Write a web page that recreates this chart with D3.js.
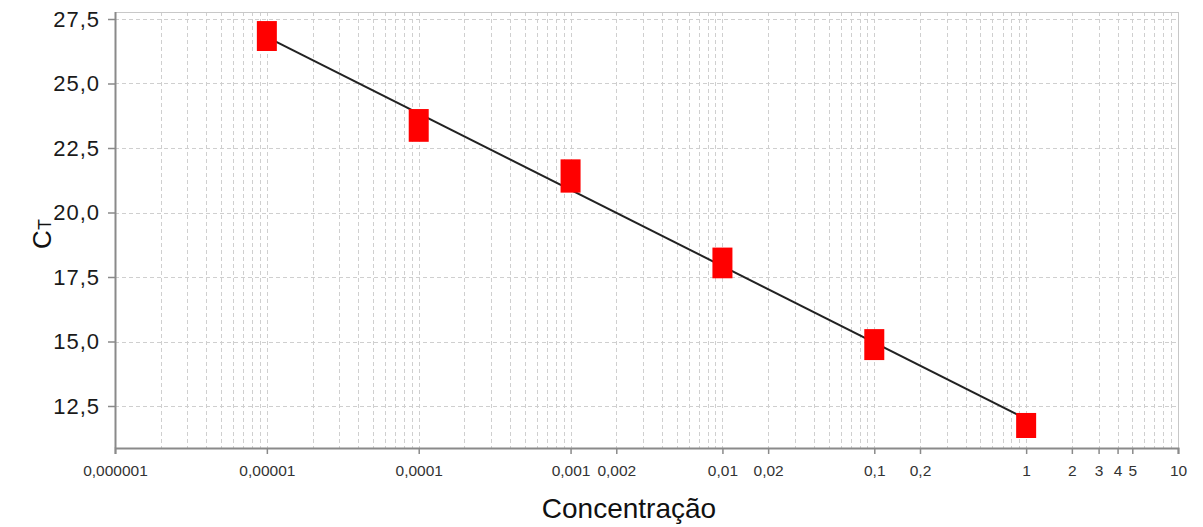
<!DOCTYPE html>
<html>
<head>
<meta charset="utf-8">
<script src="https://cdn.jsdelivr.net/npm/d3@7"></script>
<style>
  body { margin: 0; background: #fff; }
  svg { display: block; font-family: "Liberation Sans", Arial, sans-serif; }
</style>
</head>
<body>
<div id="chart"></div>
<script>
// standard curve data (range of replicate Ct per dilution)
const concentrations = [0.00001, 0.0001, 0.001, 0.01, 0.1, 1];
const ctMin = [26.26, 22.74, 20.77, 17.45, 14.28, 11.26];
const ctMax = [27.42, 24.01, 22.06, 18.64, 15.48, 12.23];

// fitted regression line end points
const fitX = [0.00001, 1];
const fitY = [26.8, 12.0];

const xTickValues = [0.000001, 0.00001, 0.0001, 0.001, 0.002, 0.01, 0.02, 0.1, 0.2, 1, 2, 3, 4, 5, 10];
const xTickLabels = ["0,000001", "0,00001", "0,0001", "0,001", "0,002", "0,01", "0,02", "0,1", "0,2", "1", "2", "3", "4", "5", "10"];
const yTickValues = [12.5, 15, 17.5, 20, 22.5, 25, 27.5];

const width = 1203, height = 527;
const plotLeft = 115, plotRight = 1178, plotTop = 12, plotBottom = 448;

const svg = d3.select("#chart").append("svg")
    .attr("width", width)
    .attr("height", height);

const x = d3.scaleLog().domain([0.000001, 10]).range([plotLeft, plotRight]);
const y = d3.scaleLinear().domain([12.5, 27.5]).range([406, 19]);

// grid lines (every 1..9 within each decade)
const gridX = [];
for (let e = -6; e < 1; e++) {
    for (let m = 1; m < 10; m++) gridX.push(m * Math.pow(10, e));
}

const grid = svg.append("g")
    .attr("stroke", "#cfcfcf")
    .attr("stroke-width", 1)
    .attr("stroke-dasharray", "4,3")
    .attr("shape-rendering", "crispEdges");

grid.selectAll(".gx")
    .data(gridX.filter(d => d > 0.000001))
    .enter().append("line")
    .attr("x1", d => Math.round(x(d)) + 0.5)
    .attr("x2", d => Math.round(x(d)) + 0.5)
    .attr("y1", plotTop)
    .attr("y2", plotBottom);

grid.selectAll(".gy")
    .data(yTickValues)
    .enter().append("line")
    .attr("x1", plotLeft)
    .attr("x2", plotRight)
    .attr("y1", d => Math.round(y(d)) + 0.5)
    .attr("y2", d => Math.round(y(d)) + 0.5);

// frame
svg.append("rect")
    .attr("x", plotLeft + 0.5)
    .attr("y", plotTop + 0.5)
    .attr("width", plotRight - plotLeft)
    .attr("height", plotBottom - plotTop)
    .attr("fill", "none")
    .attr("stroke", "#c8c8c8")
    .attr("shape-rendering", "crispEdges");

// x axis
const xAxis = svg.append("g")
    .attr("transform", `translate(0,${plotBottom})`)
    .call(d3.axisBottom(x)
        .tickValues(xTickValues)
        .tickFormat((d, i) => xTickLabels[i])
        .tickSize(6)
        .tickPadding(11));
xAxis.select(".domain").attr("stroke", "#8a8a8a").attr("stroke-width", 2);
xAxis.selectAll(".tick line").attr("stroke", "#8a8a8a").attr("stroke-width", 1.5);
xAxis.selectAll(".tick text")
    .attr("font-size", "15.5px")
    .attr("fill", "#333")
    .attr("font-family", "'Liberation Sans', Arial, sans-serif");

// y axis
const yAxis = svg.append("g")
    .attr("transform", `translate(${plotLeft},0)`)
    .call(d3.axisLeft(y)
        .tickValues(yTickValues)
        .tickFormat(d => d3.format(".1f")(d).replace(".", ","))
        .tickSize(7)
        .tickPadding(8));
yAxis.select(".domain").attr("d", `M0.5,${plotTop}V${plotBottom}`)
    .attr("stroke", "#8a8a8a").attr("stroke-width", 2);
yAxis.selectAll(".tick line").attr("stroke", "#8a8a8a").attr("stroke-width", 1.5);
yAxis.selectAll(".tick text")
    .attr("font-size", "22px")
    .attr("fill", "#1a1a1a")
    .attr("letter-spacing", "1px")
    .attr("font-family", "'Liberation Sans', Arial, sans-serif");

// regression line
svg.append("path")
    .datum(fitX.map((d, i) => [d, fitY[i]]))
    .attr("fill", "none")
    .attr("stroke", "#222")
    .attr("stroke-width", 2)
    .attr("d", d3.line().x(d => x(d[0])).y(d => y(d[1])));

// markers
svg.selectAll(".marker")
    .data(concentrations)
    .enter().append("rect")
    .attr("class", "marker")
    .attr("x", d => x(d) - 10)
    .attr("width", 20)
    .attr("y", (d, i) => y(ctMax[i]))
    .attr("height", (d, i) => y(ctMin[i]) - y(ctMax[i]))
    .attr("fill", "#ff0000");

// axis titles
svg.append("text")
    .attr("x", 629)
    .attr("y", 518)
    .attr("text-anchor", "middle")
    .attr("font-size", "28px")
    .attr("fill", "#111")
    .text("Concentração");

const yt = svg.append("text")
    .attr("transform", "translate(51,234) rotate(-90)")
    .attr("text-anchor", "middle")
    .attr("fill", "#111");
yt.append("tspan").attr("font-size", "26px").text("C");
yt.append("tspan").attr("font-size", "18px").text("T");
</script>
</body>
</html>
